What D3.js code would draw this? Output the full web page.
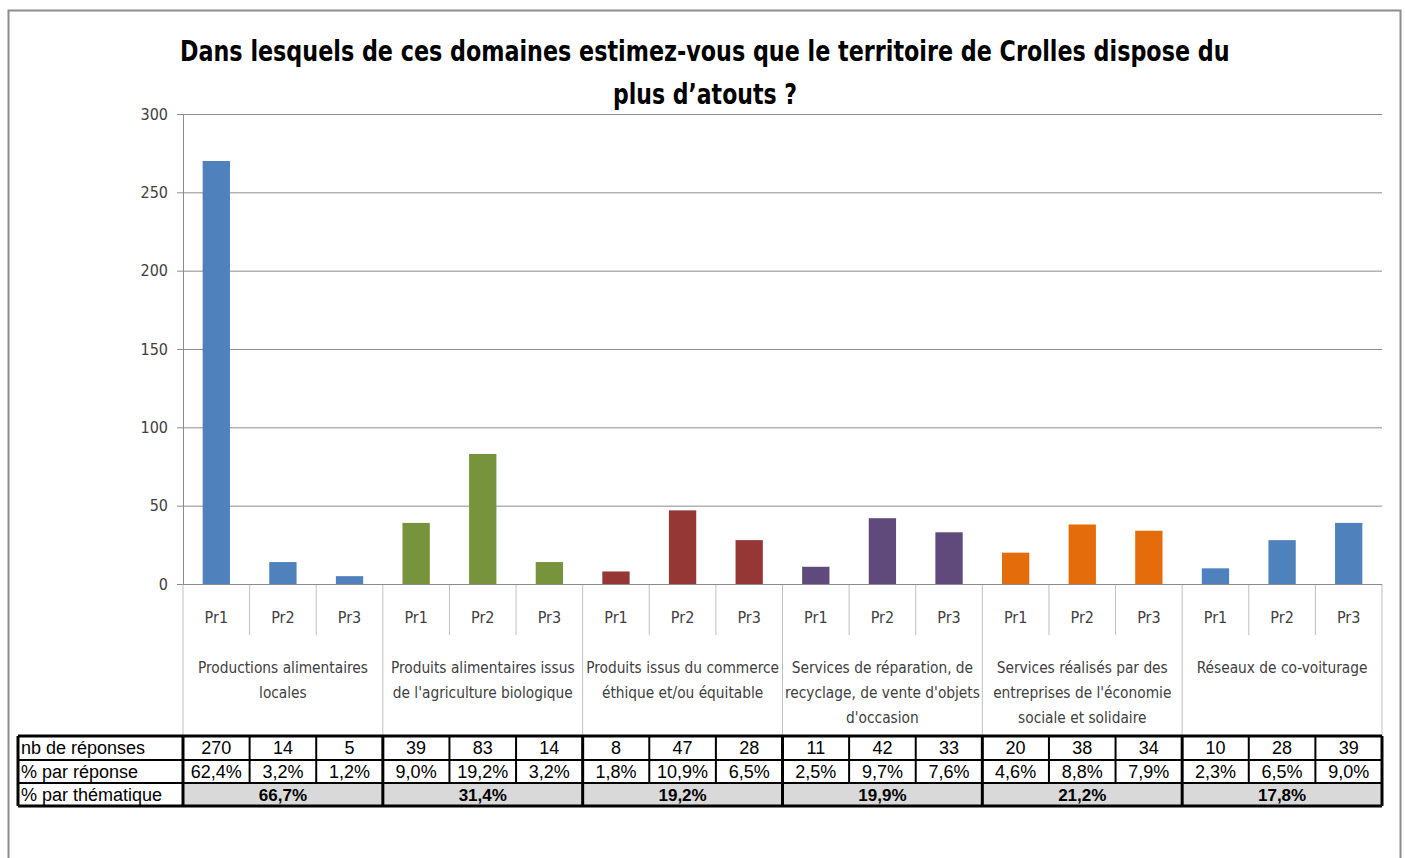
<!DOCTYPE html>
<html>
<head>
<meta charset="utf-8">
<script src="https://cdn.jsdelivr.net/npm/d3@7/dist/d3.min.js"></script>
<style>
  body { margin: 0; background: #fff; }
  svg { display: block; }
  .narrow { font-family: "DejaVu Sans Condensed", "Liberation Sans Narrow", "Open Sans", sans-serif; }
  .tbl { font-family: "Liberation Sans", Arial, sans-serif; }
</style>
</head>
<body>
<svg id="chart" width="1405" height="858"></svg>
<script>
// data
const groups = [
  "Productions alimentaires\nlocales",
  "Produits alimentaires issus\nde l'agriculture biologique",
  "Produits issus du commerce\néthique et/ou équitable",
  "Services de réparation, de\nrecyclage, de vente d'objets\nd'occasion",
  "Services réalisés par des\nentreprises de l'économie\nsociale et solidaire",
  "Réseaux de co-voiturage"
];
const priorities = ["Pr1", "Pr2", "Pr3"];
const counts = [270, 14, 5, 39, 83, 14, 8, 47, 28, 11, 42, 33, 20, 38, 34, 10, 28, 39];
const pctAnswer = ["62,4%", "3,2%", "1,2%", "9,0%", "19,2%", "3,2%", "1,8%", "10,9%", "6,5%",
                   "2,5%", "9,7%", "7,6%", "4,6%", "8,8%", "7,9%", "2,3%", "6,5%", "9,0%"];
const pctTheme = ["66,7%", "31,4%", "19,2%", "19,9%", "21,2%", "17,8%"];
const rowLabels = ["nb de réponses", "% par réponse", "% par thématique"];
const groupColors = ["#4f81bd", "#77933c", "#953735", "#604a7b", "#e46c0a", "#4f81bd"];
const yTicks = [0, 50, 100, 150, 200, 250, 300];
const titleLines = ["Dans lesquels de ces domaines estimez-vous que le territoire de Crolles dispose du", "plus d\u2019atouts ?"];

const margin = {top: 114, left: 183, right: 23, bottom: 274};
const W = 1405, H = 858;
const plotRight = W - margin.right;
const y0 = H - margin.bottom;

const svg = d3.select("#chart");

// outer frame
svg.append("rect")
  .attr("x", 8.5).attr("y", 10.5).attr("width", 1392).attr("height", 900)
  .attr("fill", "none").attr("stroke", "#8c8c8c").attr("stroke-width", 2);

// title - squeeze horizontally to the reference width
const titleBox = [{x: 180, y: 61, w: 1050}, {x: 613, y: 104, w: 184}];
svg.append("g").attr("class", "narrow")
  .selectAll("text").data(titleLines).enter().append("text")
  .attr("font-size", 29).attr("font-weight", "bold").attr("fill", "#000")
  .text(d => d)
  .each(function(d, i) {
    const nat = this.getComputedTextLength();
    const b = titleBox[i];
    d3.select(this).attr("transform", `translate(${b.x},${b.y}) scale(${b.w / nat},1)`);
  });

const slots = d3.range(counts.length);
const x = d3.scaleBand()
  .domain(slots)
  .range([margin.left, plotRight])
  .paddingInner(0.59)
  .paddingOuter(0.295);
const step = x.step();

const y = d3.scaleLinear().domain([0, 300]).range([y0, margin.top]);

// gridlines
svg.append("g")
  .attr("transform", `translate(${margin.left},0)`)
  .call(d3.axisLeft(y).tickValues(yTicks).tickSize(-(plotRight - margin.left)).tickFormat(""))
  .call(g => g.select(".domain").remove())
  .call(g => g.selectAll("line").attr("stroke", "#8c8c8c").attr("stroke-width", 1));

// y axis
svg.append("g")
  .attr("transform", `translate(${margin.left},0)`)
  .call(d3.axisLeft(y).tickValues(yTicks).tickSize(6).tickPadding(9))
  .call(g => g.select(".domain").attr("stroke", "#8c8c8c"))
  .call(g => g.selectAll("line").attr("stroke", "#8c8c8c"))
  .call(g => g.selectAll("text").attr("font-size", 16).attr("fill", "#404040")
    .attr("font-family", "DejaVu Sans Condensed, sans-serif"));

// bars
svg.append("g").selectAll("rect").data(counts).enter().append("rect")
  .attr("x", (d, i) => x(i))
  .attr("y", d => y(d))
  .attr("width", x.bandwidth())
  .attr("height", d => y0 - y(d))
  .attr("fill", (d, i) => groupColors[Math.floor(i / 3)]);

// category axis: slot separators
const axisCol = "#bfbfbf";
const tickBottom = 635, groupBottom = 736;
svg.append("g").selectAll("line").data(d3.range(counts.length + 1)).enter().append("line")
  .attr("x1", i => margin.left + i * step).attr("x2", i => margin.left + i * step)
  .attr("y1", y0).attr("y2", i => i % 3 === 0 ? groupBottom : tickBottom)
  .attr("stroke", axisCol).attr("stroke-width", 1);
svg.append("line")
  .attr("x1", margin.left).attr("x2", plotRight).attr("y1", y0 + 0.5).attr("y2", y0 + 0.5)
  .attr("stroke", "#8c8c8c");

// Pr labels
svg.append("g").attr("class", "narrow").selectAll("text").data(slots).enter().append("text")
  .attr("x", i => x(i) + x.bandwidth() / 2)
  .attr("y", 623)
  .attr("text-anchor", "middle").attr("font-size", 16).attr("fill", "#404040")
  .text(i => priorities[i % 3]);

// group labels
const gl = svg.append("g").attr("class", "narrow").selectAll("text").data(groups).enter().append("text")
  .attr("text-anchor", "middle").attr("font-size", 15.3).attr("fill", "#404040")
  .attr("transform", (d, i) => `translate(${margin.left + (i * 3 + 1.5) * step},673)`);
gl.selectAll("tspan").data(d => d.split("\n")).enter().append("tspan")
  .attr("x", 0).attr("dy", (d, i) => i === 0 ? 0 : 25)
  .text(d => d);

// data table
const rowTop = [736, 760, 783, 806];
const tableLeft = 18;
const tbl = svg.append("g").attr("class", "tbl");

// shaded theme row
tbl.selectAll("rect.shade").data(pctTheme).enter().append("rect")
  .attr("x", (d, i) => margin.left + i * 3 * step)
  .attr("y", rowTop[2]).attr("width", 3 * step).attr("height", rowTop[3] - rowTop[2])
  .attr("fill", "#d9d9d9");

// row labels
tbl.selectAll("text.rl").data(rowLabels).enter().append("text")
  .attr("x", tableLeft + 3).attr("y", (d, i) => rowTop[i] + 18)
  .attr("font-size", 18).attr("fill", "#000").text(d => d);

// counts and pct per answer
tbl.selectAll("text.cnt").data(counts).enter().append("text")
  .attr("x", (d, i) => x(i) + x.bandwidth() / 2).attr("y", rowTop[0] + 18)
  .attr("text-anchor", "middle").attr("font-size", 18).text(d => d);
tbl.selectAll("text.pa").data(pctAnswer).enter().append("text")
  .attr("x", (d, i) => x(i) + x.bandwidth() / 2).attr("y", rowTop[1] + 18)
  .attr("text-anchor", "middle").attr("font-size", 18).text(d => d);
tbl.selectAll("text.pt").data(pctTheme).enter().append("text")
  .attr("x", (d, i) => margin.left + (i * 3 + 1.5) * step).attr("y", rowTop[2] + 18)
  .attr("text-anchor", "middle").attr("font-size", 17).attr("font-weight", "bold").text(d => d);

// table borders
tbl.selectAll("line.h").data(rowTop).enter().append("line")
  .attr("x1", tableLeft).attr("x2", plotRight).attr("y1", d => d).attr("y2", d => d)
  .attr("stroke", "#000").attr("stroke-width", (d, i) => i === 0 || i === 3 ? 3 : 2);
tbl.append("line")
  .attr("x1", tableLeft).attr("x2", tableLeft).attr("y1", rowTop[0]).attr("y2", rowTop[3])
  .attr("stroke", "#000").attr("stroke-width", 3);
tbl.selectAll("line.v").data(d3.range(counts.length + 1)).enter().append("line")
  .attr("x1", i => margin.left + i * step).attr("x2", i => margin.left + i * step)
  .attr("y1", rowTop[0]).attr("y2", i => i % 3 === 0 ? rowTop[3] : rowTop[2])
  .attr("stroke", "#000").attr("stroke-width", i => i % 3 === 0 ? 3 : 2);
</script>
</body>
</html>
